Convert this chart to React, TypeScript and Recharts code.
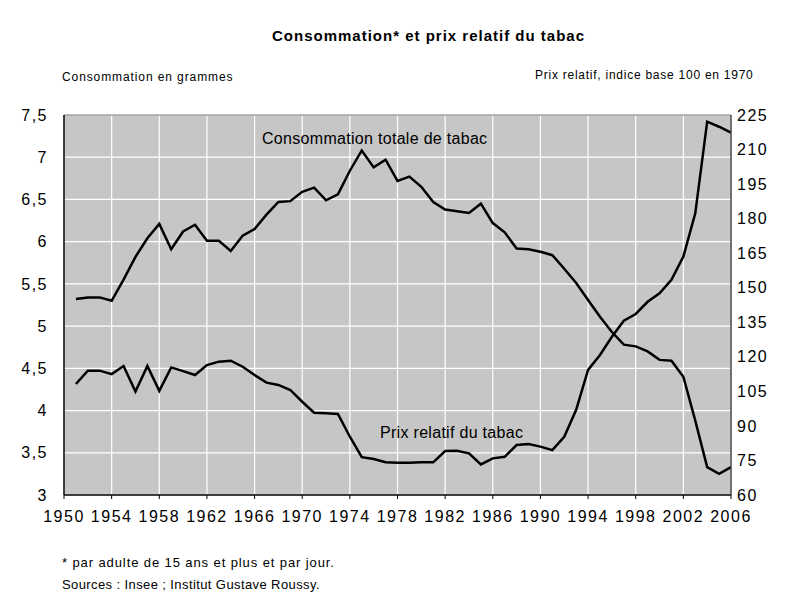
import { CartesianGrid, Line, LineChart, ReferenceLine, XAxis, YAxis } from "recharts";

const years = [
  1951, 1952, 1953, 1954, 1955, 1956, 1957, 1958, 1959, 1960,
  1961, 1962, 1963, 1964, 1965, 1966, 1967, 1968, 1969, 1970,
  1971, 1972, 1973, 1974, 1975, 1976, 1977, 1978, 1979, 1980,
  1981, 1982, 1983, 1984, 1985, 1986, 1987, 1988, 1989, 1990,
  1991, 1992, 1993, 1994, 1995, 1996, 1997, 1998, 1999, 2000,
  2001, 2002, 2003, 2004, 2005, 2006,
];

// grammes par adulte et par jour (axe gauche)
const consommation = [
  5.32, 5.34, 5.34, 5.3, 5.55, 5.82, 6.04, 6.21, 5.91, 6.12,
  6.2, 6.01, 6.01, 5.89, 6.07, 6.15, 6.32, 6.47, 6.48, 6.59,
  6.64, 6.49, 6.56, 6.84, 7.08, 6.88, 6.97, 6.72, 6.77, 6.65,
  6.47, 6.38, 6.36, 6.34, 6.45, 6.22, 6.11, 5.92, 5.91, 5.88,
  5.84, 5.68, 5.51, 5.31, 5.11, 4.93, 4.78, 4.76, 4.7, 4.6,
  4.59, 4.4, 3.88, 3.33, 3.25, 3.33,
];

// indice base 100 en 1970 (axe droit)
const prixRelatif = [
  108.2, 114.0, 114.0, 112.5, 116.0, 104.9, 116.0, 105.2, 115.4, 113.8,
  112.1, 116.4, 117.9, 118.3, 115.7, 112.1, 108.8, 107.8, 105.6, 100.5,
  95.7, 95.5, 95.2, 85.3, 76.4, 75.6, 74.2, 74.0, 74.0, 74.2,
  74.2, 79.1, 79.2, 78.1, 73.3, 75.9, 76.6, 81.7, 82.1, 81.0,
  79.5, 85.3, 97.0, 114.3, 120.8, 128.7, 135.7, 138.6, 143.9, 147.6,
  153.4, 163.5, 182.3, 222.1, 219.9, 217.3,
];

const xTicks = [1950, 1954, 1958, 1962, 1966, 1970, 1974, 1978, 1982, 1986, 1990, 1994, 1998, 2002, 2006];
const leftTicks = [3, 3.5, 4, 4.5, 5, 5.5, 6, 6.5, 7, 7.5];
const rightTicks = [60, 75, 90, 105, 120, 135, 150, 165, 180, 195, 210, 225];

const data = years.map((year, i) => ({
  year,
  consommation: consommation[i],
  prix: prixRelatif[i],
}));

const font = "'Liberation Sans', Arial, sans-serif";
const tickStyle = { fontSize: 16, fill: "#000", fontFamily: font, letterSpacing: 1.5 };

const text = (left: number, top: number, size: number, content: string, extra: object = {}) => (
  <div
    style={{
      position: "absolute",
      left,
      top,
      fontSize: size,
      fontFamily: font,
      whiteSpace: "nowrap",
      lineHeight: 1,
      ...extra,
    }}
  >
    {content}
  </div>
);

export default function App() {
  return (
    <div style={{ position: "absolute", left: 0, top: 0, width: 801, height: 604, background: "#fff" }}>
      <LineChart
        width={801}
        height={604}
        data={data}
        margin={{ top: 115, right: 20, bottom: 79, left: 14 }}
      >
        <CartesianGrid
          yAxisId="left"
          stroke="#ffffff"
          strokeWidth={1.2}
          fill="#c6c6c6"
          fillOpacity={1}
          horizontalValues={leftTicks}
          verticalValues={xTicks}
        />
        <XAxis
          dataKey="year"
          type="number"
          domain={[1950, 2006]}
          ticks={xTicks}
          interval={0}
          tick={tickStyle}
          tickLine={{ stroke: "#000" }}
          tickSize={4}
          axisLine={{ stroke: "#000", strokeWidth: 1.5 }}
          height={30}
          dy={10}
        />
        <YAxis
          yAxisId="left"
          domain={[3, 7.5]}
          ticks={leftTicks}
          interval={0}
          tick={tickStyle}
          tickFormatter={(v: number) => String(v).replace(".", ",")}
          tickLine={false}
          axisLine={{ stroke: "#000", strokeWidth: 1.5 }}
          width={50}
          dx={-8}
        />
        <YAxis
          yAxisId="right"
          orientation="right"
          domain={[60, 225]}
          ticks={rightTicks}
          interval={0}
          tick={tickStyle}
          tickLine={false}
          axisLine={{ stroke: "#444", strokeWidth: 1.5 }}
          width={50}
          dx={-2}
        />
        <ReferenceLine yAxisId="left" y={7.5} stroke="#777" strokeWidth={1} />
        <Line
          yAxisId="left"
          type="linear"
          dataKey="consommation"
          stroke="#000"
          strokeWidth={2.5}
          dot={false}
          isAnimationActive={false}
        />
        <Line
          yAxisId="right"
          type="linear"
          dataKey="prix"
          stroke="#000"
          strokeWidth={2.5}
          dot={false}
          isAnimationActive={false}
        />
      </LineChart>

      {text(272, 28, 15, "Consommation* et prix relatif du tabac", { fontWeight: "bold", letterSpacing: 1 })}
      {text(62, 71, 12, "Consommation en grammes", { letterSpacing: 0.9 })}
      {text(535, 69, 12, "Prix relatif, indice base 100 en 1970", { letterSpacing: 0.75 })}
      {text(262, 131, 16, "Consommation totale de tabac", { letterSpacing: 0.3 })}
      {text(380, 425, 16, "Prix relatif du tabac", { letterSpacing: 0.3 })}
      {text(62, 556, 13, "* par adulte de 15 ans et plus et par jour.", { letterSpacing: 0.9 })}
      {text(62, 578, 13, "Sources : Insee ; Institut Gustave Roussy.", { letterSpacing: 0.4 })}
    </div>
  );
}
